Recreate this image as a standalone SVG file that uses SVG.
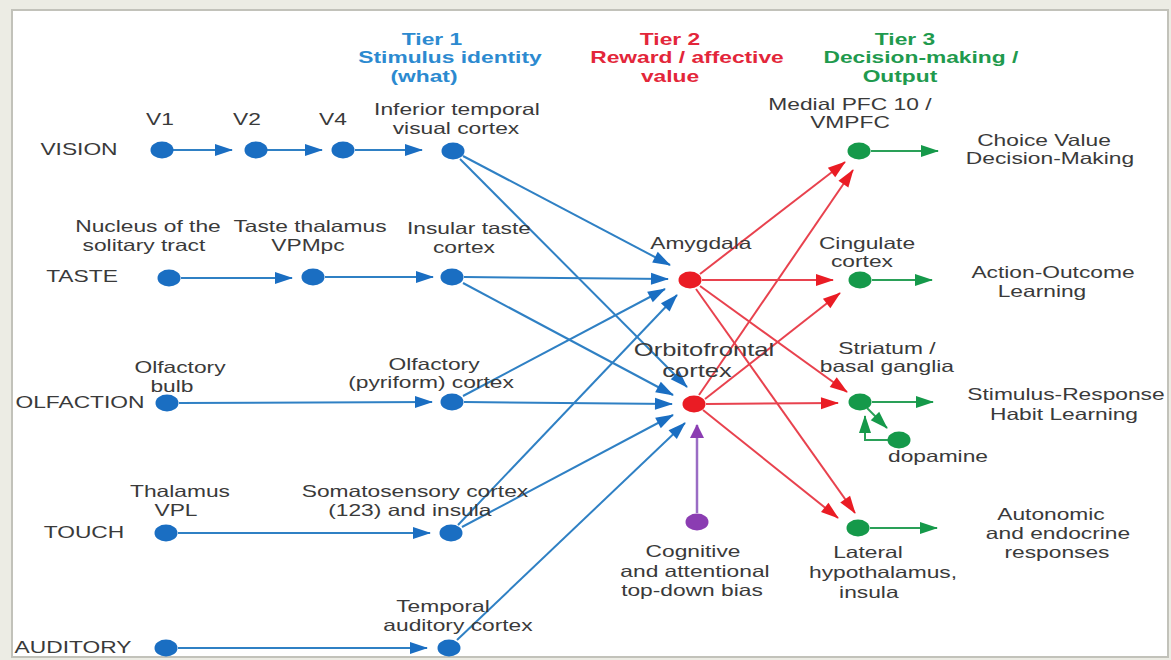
<svg xmlns="http://www.w3.org/2000/svg" width="1171" height="660" viewBox="0 0 1171 660">
<defs>
<style>
text{font-family:"Liberation Sans",Arial,sans-serif;font-size:16.5px;fill:#3a3a3a;text-anchor:middle;transform-box:fill-box;transform-origin:center;transform:scaleX(1.38)}
.h{font-weight:bold}
.t1{fill:#2c8ad0}.t2{fill:#e3263a}.t3{fill:#1f9a4e}
.big{font-size:18.5px}
.bn{fill:#1a6ec2}.rn{fill:#ea1c24}.gn{fill:#15994a}.pn{fill:#8b3db2}
.bl{stroke:#2f80c4;stroke-width:2;fill:none;marker-end:url(#ab)}
.rl{stroke:#e8424e;stroke-width:2;fill:none;marker-end:url(#ar)}
.gl{stroke:#2aa058;stroke-width:2;fill:none;marker-end:url(#ag)}
.pl{stroke:#9a6cc4;stroke-width:2.5;fill:none;marker-end:url(#ap)}
</style>
<marker id="ab" markerUnits="userSpaceOnUse" markerWidth="18" markerHeight="12" refX="17" refY="6" orient="auto" overflow="visible"><path d="M0,0 L18,6 L0,12 z" fill="#1a6ec2"/></marker>
<marker id="ar" markerUnits="userSpaceOnUse" markerWidth="18" markerHeight="12" refX="17" refY="6" orient="auto" overflow="visible"><path d="M0,0 L18,6 L0,12 z" fill="#ea1c24"/></marker>
<marker id="ag" markerUnits="userSpaceOnUse" markerWidth="18" markerHeight="12" refX="17" refY="6" orient="auto" overflow="visible"><path d="M0,0 L18,6 L0,12 z" fill="#15994a"/></marker>
<marker id="ap" markerUnits="userSpaceOnUse" markerWidth="14" markerHeight="14" refX="13" refY="7" orient="auto" overflow="visible"><path d="M0,0 L14,7 L0,14 z" fill="#8b3db2"/></marker>
</defs>
<rect x="0" y="0" width="1171" height="660" fill="#ecece4"/>
<rect x="12" y="10" width="1156" height="647" fill="#ffffff" stroke="#c2c2ba" stroke-width="2"/>

<g id="headers">
<text class="h t1" x="432" y="45">Tier 1</text>
<text class="h t1" x="450" y="63">Stimulus identity</text>
<text class="h t1" x="424" y="82">(what)</text>
<text class="h t2" x="670" y="45">Tier 2</text>
<text class="h t2" x="687" y="63">Reward / affective</text>
<text class="h t2" x="670" y="82">value</text>
<text class="h t3" x="905" y="45">Tier 3</text>
<text class="h t3" x="921" y="63">Decision-making /</text>
<text class="h t3" x="900" y="82">Output</text>
</g>

<g id="modalities">
<text x="79" y="155">VISION</text>
<text x="82" y="282">TASTE</text>
<text x="80" y="408">OLFACTION</text>
<text x="84" y="538">TOUCH</text>
<text x="73" y="653">AUDITORY</text>
</g>

<g id="connectors">
<path class="bl" d="M173,150 L232,150"/>
<path class="bl" d="M267,150 L322,150"/>
<path class="bl" d="M355,150 L422,150"/>
<path class="bl" d="M181,278 L292,278"/>
<path class="bl" d="M325,277 L433,277"/>
<path class="bl" d="M179,403 L432,402"/>
<path class="bl" d="M178,533 L430,533"/>
<path class="bl" d="M178,648 L427,648"/>
<path class="bl" d="M463,156 L670,265"/>
<path class="bl" d="M460,159 L687,387"/>
<path class="bl" d="M464,277 L668,279"/>
<path class="bl" d="M463,283 L673,395"/>
<path class="bl" d="M463,396 L665,289"/>
<path class="bl" d="M464,402 L672,404"/>
<path class="bl" d="M458,525 L677,295"/>
<path class="bl" d="M462,527 L673,415"/>
<path class="bl" d="M457,640 L685,423"/>
<path class="rl" d="M700,274 L845,162"/>
<path class="rl" d="M702,280 L833,280"/>
<path class="rl" d="M700,286 L847,392"/>
<path class="rl" d="M696,289 L855,513"/>
<path class="rl" d="M699,395 L853,170"/>
<path class="rl" d="M705,399 L840,293"/>
<path class="rl" d="M706,404 L838,403"/>
<path class="rl" d="M703,410 L838,518"/>
<path class="gl" d="M871,151 L938,151"/>
<path class="gl" d="M872,280 L932,280"/>
<path class="gl" d="M872,402 L933,402"/>
<path class="gl" d="M870,528 L937,528"/>
<path class="gl" d="M867,408 L887,428"/>
<path class="gl" d="M890,440 H865 V416"/>
<path class="pl" d="M697,513 L697,425"/>
</g>

<g id="v1"><ellipse class="bn" cx="162" cy="150" rx="11.5" ry="8.5"/><text x="160" y="125">V1</text></g>
<g id="v2"><ellipse class="bn" cx="256" cy="150" rx="11.5" ry="8.5"/><text x="247" y="125">V2</text></g>
<g id="v4"><ellipse class="bn" cx="343" cy="150" rx="11.5" ry="8.5"/><text x="333" y="125">V4</text></g>
<g id="it"><ellipse class="bn" cx="453" cy="151" rx="11.5" ry="8.5"/><text x="457" y="115">Inferior temporal</text><text x="456" y="134">visual cortex</text></g>
<g id="nts"><ellipse class="bn" cx="169" cy="278" rx="11.5" ry="8.5"/><text x="148" y="232">Nucleus of the</text><text x="144" y="251">solitary tract</text></g>
<g id="tt"><ellipse class="bn" cx="313" cy="277" rx="11.5" ry="8.5"/><text x="310" y="232">Taste thalamus</text><text x="308" y="251">VPMpc</text></g>
<g id="ins"><ellipse class="bn" cx="452" cy="277" rx="11.5" ry="8.5"/><text x="469" y="234">Insular taste</text><text x="464" y="253">cortex</text></g>
<g id="bulb"><ellipse class="bn" cx="167" cy="403" rx="11.5" ry="8.5"/><text x="180" y="373">Olfactory</text><text x="172" y="392">bulb</text></g>
<g id="pyr"><ellipse class="bn" cx="452" cy="402" rx="11.5" ry="8.5"/><text x="434" y="370">Olfactory</text><text x="431" y="388">(pyriform) cortex</text></g>
<g id="vpl"><ellipse class="bn" cx="166" cy="533" rx="11.5" ry="8.5"/><text x="180" y="497">Thalamus</text><text x="176" y="516">VPL</text></g>
<g id="som"><ellipse class="bn" cx="451" cy="533" rx="11.5" ry="8.5"/><text x="415" y="497">Somatosensory cortex</text><text x="410" y="516">(123) and insula</text></g>
<g id="aud"><ellipse class="bn" cx="166" cy="648" rx="11.5" ry="8.5"/></g>
<g id="tac"><ellipse class="bn" cx="449" cy="648" rx="11.5" ry="8.5"/><text x="443" y="612">Temporal</text><text x="458" y="631">auditory cortex</text></g>

<g id="amy"><ellipse class="rn" cx="690" cy="280" rx="11.5" ry="8.5"/><text x="701" y="249">Amygdala</text></g>
<g id="ofc"><ellipse class="rn" cx="694" cy="404" rx="11.5" ry="8.5"/><text class="big" x="704" y="356">Orbitofrontal</text><text class="big" x="697" y="377">cortex</text></g>
<g id="bias"><ellipse class="pn" cx="697" cy="522" rx="11.5" ry="8.5"/><text x="693" y="557">Cognitive</text><text x="695" y="577">and attentional</text><text x="692" y="596">top-down bias</text></g>

<g id="vmpfc"><ellipse class="gn" cx="859" cy="151" rx="11.5" ry="8.5"/><text x="850" y="110">Medial PFC 10 /</text><text x="850" y="128">VMPFC</text></g>
<g id="cing"><ellipse class="gn" cx="860" cy="280" rx="11.5" ry="8.5"/><text x="867" y="249">Cingulate</text><text x="862" y="267">cortex</text></g>
<g id="str"><ellipse class="gn" cx="860" cy="402" rx="11.5" ry="8.5"/><text x="887" y="354">Striatum /</text><text x="887" y="372">basal ganglia</text></g>
<g id="dop"><ellipse class="gn" cx="899" cy="440" rx="11.5" ry="8.5"/><text x="938" y="462">dopamine</text></g>
<g id="lh"><ellipse class="gn" cx="858" cy="528" rx="11.5" ry="8.5"/><text x="868" y="558">Lateral</text><text x="883" y="578">hypothalamus,</text><text x="869" y="598">insula</text></g>

<g id="outputs">
<text x="1044" y="146">Choice Value</text>
<text x="1050" y="164">Decision-Making</text>
<text x="1053" y="278">Action-Outcome</text>
<text x="1042" y="297">Learning</text>
<text x="1066" y="400">Stimulus-Response</text>
<text x="1064" y="420">Habit Learning</text>
<text x="1051" y="520">Autonomic</text>
<text x="1058" y="539">and endocrine</text>
<text x="1057" y="558">responses</text>
</g>
</svg>
